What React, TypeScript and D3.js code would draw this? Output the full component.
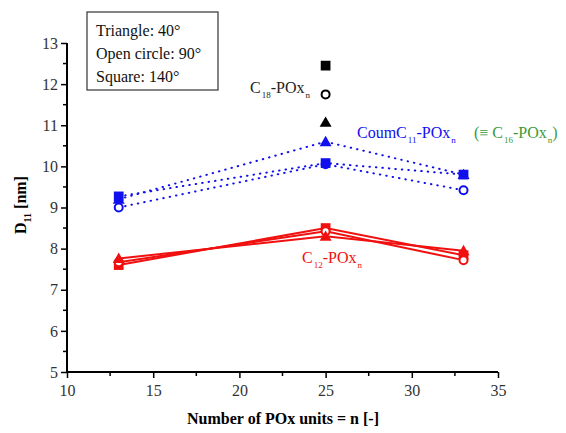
import React, { useEffect, useRef } from 'react';
import * as d3 from 'd3';

// chain lengths (x) and D11 values per contact angle
const nUnits = [13, 25, 33];
const c12Triangle = [7.76, 8.3, 7.95];
const c12Circle = [7.67, 8.42, 7.72];
const c12Square = [7.6, 8.5, 7.84];
const coumTriangle = [9.2, 10.6, 9.8];
const coumCircle = [9.0, 10.05, 9.42];
const coumSquare = [9.27, 10.08, 9.8];
const c18N = [25];
const c18Triangle = [11.07];
const c18Circle = [11.75];
const c18Square = [12.45];

const xTicks = [10, 15, 20, 25, 30, 35];
const yTicks = [5, 6, 7, 8, 9, 10, 11, 12, 13];
const legendLines = ['Triangle: 40°', 'Open circle: 90°', 'Square: 140°'];

const BLUE = '#1010ee';
const RED = '#f01010';
const GREEN = '#3a9a3a';
const FONT = "'Liberation Serif', 'Times New Roman', 'DejaVu Serif', serif";

function App() {
  const ref = useRef<SVGSVGElement>(null);

  useEffect(() => {
    const svg = d3.select(ref.current);
    svg.selectAll('*').remove();

    const x = d3.scaleLinear().domain([10, 35]).range([67, 498]);
    const y = d3.scaleLinear().domain([5, 13]).range([372, 43]);

    // axes
    const xAxis = d3.axisBottom(x).tickValues(xTicks).tickSize(6).tickFormat(d3.format('d'));
    const gx = svg.append('g').attr('transform', 'translate(0,372)').call(xAxis);
    gx.select('.domain').attr('stroke-width', 2).attr('d', 'M67,0H498');
    gx.selectAll('.tick line').attr('stroke-width', 1.5);
    gx.selectAll('.tick text').style('font-size', '16px').style('font-family', FONT)
      .attr('fill', '#333').attr('dy', '0.95em');
    svg.append('g').attr('transform', 'translate(0,372)')
      .selectAll('line').data(d3.range(12.5, 35, 5)).join('line')
      .attr('x1', (d) => x(d)).attr('x2', (d) => x(d)).attr('y1', 0).attr('y2', 4)
      .attr('stroke', '#000').attr('stroke-width', 1.5);

    const yAxis = d3.axisLeft(y).tickValues(yTicks).tickSize(6).tickFormat(d3.format('d'));
    const gy = svg.append('g').attr('transform', 'translate(67,0)').call(yAxis);
    gy.select('.domain').attr('stroke-width', 2).attr('d', 'M0,43V372');
    gy.selectAll('.tick line').attr('stroke-width', 1.5);
    gy.selectAll('.tick text').style('font-size', '16px').style('font-family', FONT).attr('fill', '#333');
    svg.append('g').attr('transform', 'translate(67,0)')
      .selectAll('line').data(d3.range(5.5, 13, 1)).join('line')
      .attr('x1', -4).attr('x2', 0).attr('y1', (d) => y(d)).attr('y2', (d) => y(d))
      .attr('stroke', '#000').attr('stroke-width', 1.5);

    const line = d3.line<number>().x((_, i) => x(nUnits[i])).y((d) => y(d));

    // red solid lines
    [c12Triangle, c12Circle, c12Square].forEach((s) => {
      svg.append('path').attr('d', line(s)).attr('fill', 'none')
        .attr('stroke', RED).attr('stroke-width', 2);
    });
    // blue dotted lines
    [coumTriangle, coumCircle, coumSquare].forEach((s) => {
      svg.append('path').attr('d', line(s)).attr('fill', 'none')
        .attr('stroke', BLUE).attr('stroke-width', 2)
        .attr('stroke-dasharray', '0.5,6').attr('stroke-linecap', 'round');
    });

    const tri = d3.symbol(d3.symbolTriangle, 62);
    const sq = d3.symbol(d3.symbolSquare, 95);

    const drawSeries = (ns: number[], vals: number[], kind: string, color: string) => {
      const g = svg.append('g');
      vals.forEach((v, i) => {
        const cx = x(ns[i]);
        const cy = y(v);
        if (kind === 'circle') {
          g.append('circle').attr('cx', cx).attr('cy', cy).attr('r', 4)
            .attr('fill', '#fff').attr('stroke', color).attr('stroke-width', 2);
        } else {
          g.append('path').attr('d', kind === 'square' ? sq() : tri())
            .attr('transform', `translate(${cx},${cy + (kind === 'triangle' ? 1 : 0)})`)
            .attr('fill', color);
        }
      });
    };

    drawSeries(nUnits, c12Square, 'square', RED);
    drawSeries(nUnits, c12Circle, 'circle', RED);
    drawSeries(nUnits, c12Triangle, 'triangle', RED);
    drawSeries(nUnits, coumCircle, 'circle', BLUE);
    drawSeries(nUnits, coumSquare, 'square', BLUE);
    drawSeries(nUnits, coumTriangle, 'triangle', BLUE);
    drawSeries(c18N, c18Square, 'square', '#000');
    drawSeries(c18N, c18Circle, 'circle', '#000');
    drawSeries(c18N, c18Triangle, 'triangle', '#000');

    // subscripted labels: each part sets its own offset from the baseline
    const subLabel = (px: number, py: number, parts: [string, boolean][], color: string) => {
      const t = svg.append('text').attr('x', px).attr('y', py).attr('fill', color)
        .style('font-family', FONT).style('font-size', '16px');
      let shift = 0;
      parts.forEach(([s, sub]) => {
        const want = sub ? 5 : 0;
        t.append('tspan').text(s).style('font-size', sub ? '9px' : '16px')
          .attr('dx', sub ? 1 : 0).attr('dy', want - shift);
        shift = want;
      });
    };
    subLabel(250, 93, [['C', false], ['18', true], ['-POx', false], ['n', true]], '#222');
    subLabel(357, 138, [['CoumC', false], ['11', true], ['-POx', false], ['n', true]], BLUE);
    subLabel(474, 138, [['(≡ C', false], ['16', true], ['-POx', false], ['n', true], [')', false]], GREEN);
    subLabel(302, 263, [['C', false], ['12', true], ['-POx', false], ['n', true]], RED);

    // legend box
    svg.append('rect').attr('x', 87).attr('y', 12).attr('width', 131).attr('height', 78)
      .attr('fill', '#fff').attr('stroke', '#333').attr('stroke-width', 1.2);
    legendLines.forEach((s, i) => {
      svg.append('text').attr('x', 96).attr('y', 36 + i * 23).text(s)
        .style('font-family', FONT).style('font-size', '16px').attr('fill', '#111');
    });

    // axis titles
    svg.append('text').attr('x', 283).attr('y', 424).attr('text-anchor', 'middle')
      .style('font-family', FONT).style('font-size', '16px').attr('font-weight', 'bold')
      .text('Number of POx units = n [-]');
    const yl = svg.append('text').attr('transform', 'translate(26,205) rotate(-90)')
      .attr('text-anchor', 'middle').style('font-family', FONT).style('font-size', '16px')
      .attr('font-weight', 'bold');
    yl.append('tspan').text('D');
    yl.append('tspan').text('11').style('font-size', '10px').attr('dy', 5);
    yl.append('tspan').text(' [nm]').attr('dy', -5);
  }, []);

  return (
    <svg ref={ref} width={566} height={433}
      style={{ position: 'absolute', left: 0, top: 0, background: '#fff' }} />
  );
}

export default App;
